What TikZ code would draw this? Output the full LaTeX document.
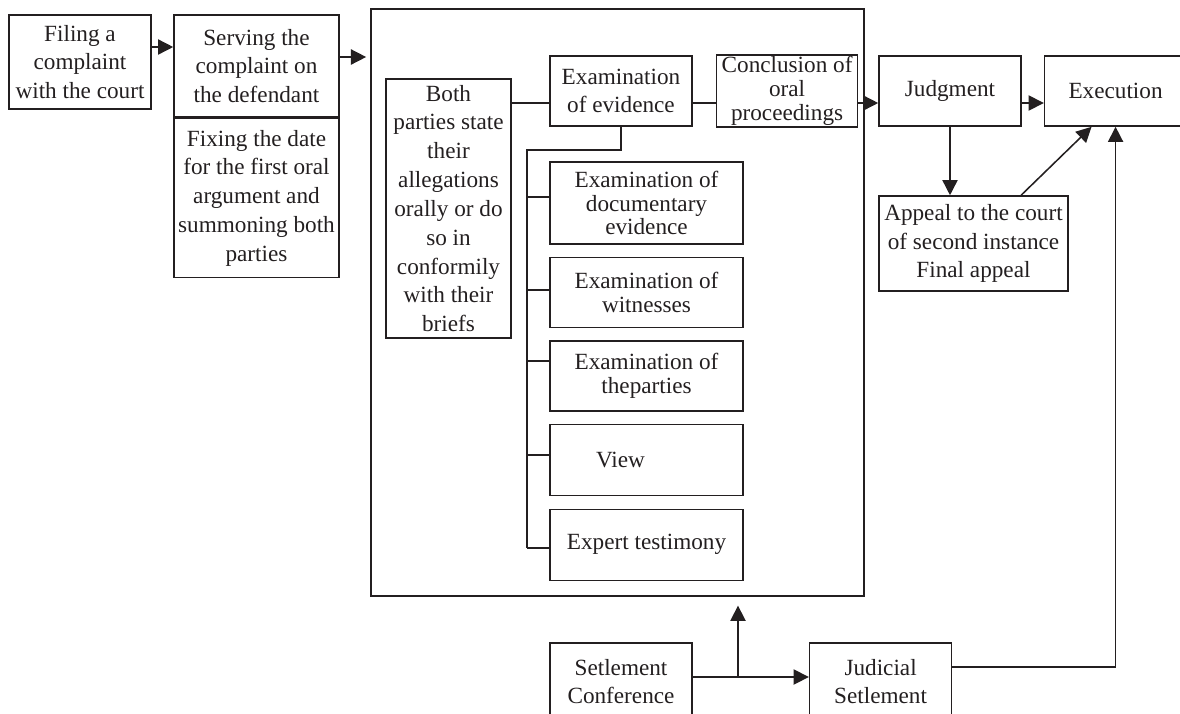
\documentclass[tikz,border=0pt]{standalone}
\usepackage{fontspec}
\setmainfont{Liberation Serif}
\usepackage{xcolor}
\usepackage{tikz}
\usetikzlibrary{arrows.meta}
\usetikzlibrary{positioning}
\definecolor{ink}{HTML}{231F20}

\begin{document}
\begin{tikzpicture}[x=0.025cm,y=-0.025cm,line width=1.1pt,color=ink,
    >={Triangle[length=0.38cm,width=0.38cm]},
    every node/.style={font=\fontsize{16.5}{20.5}\selectfont},
    blk/.style={draw,align=center,inner sep=1pt,minimum width=3.55cm,minimum height=1.75cm},
    tight/.style={font=\fontsize{16.5}{17}\selectfont}]
   \useasboundingbox (0,0) rectangle (1180,713);
   % filing and serving
   \node[blk,minimum height=2.35cm] (filing) at (80,62) {Filing a\\complaint\\with the court};
   \node[blk,minimum width=4.125cm,minimum height=2.55cm] (serve) at (256.5,66) {Serving the\\complaint on\\the defendant};
   \node[blk,minimum width=4.125cm,minimum height=3.975cm] (fixing) [below=0pt of serve] {Fixing the date\\for the first oral\\argument and\\summoning both\\parties};
   % oral argument
   \node[draw,minimum width=12.325cm,minimum height=14.675cm] (big) at (617.5,302.5) {};
   \node[blk,minimum width=3.125cm,minimum height=6.475cm] (both) at (448.5,208.5) {Both\\parties state\\their\\allegations\\orally or do\\so in\\conformily\\with their\\briefs};
   \node[blk] (exev) at (621,91) {Examination\\of evidence};
   \node[blk,tight,minimum width=3.525cm] (concl) [right=0.575cm of exev] {Conclusion of\\oral\\proceedings};
   \node[blk,tight,minimum width=4.825cm,minimum height=2.05cm] (docev) at (646.5,203) {Examination of\\documentary\\evidence};
   \node[blk,tight,minimum width=4.825cm] (witn) [below=0.3cm of docev] {Examination of\\witnesses};
   \node[blk,tight,minimum width=4.825cm] (parties) [below=0.3cm of witn] {Examination of\\theparties};
   \node[blk,minimum width=4.825cm,minimum height=1.775cm] (view) [below=0.3cm of parties] {View\hspace*{1.3cm}};
   \node[blk,minimum width=4.825cm,minimum height=1.775cm] (expert) [below=0.3cm of view] {Expert testimony};
   % judgment
   \node[blk] (judg) at (950,91) {Judgment};
   \node[blk] (exec) [right=0.55cm of judg] {Execution};
   \node[blk,minimum width=4.725cm,minimum height=2.375cm] (appeal) at (973.5,243.5) {Appeal to the court\\of second instance\\Final appeal};
   % settlement
   \node[blk,minimum height=1.925cm] (setconf) at (621,681.5) {Setlement\\Conference};
   \node[blk,minimum height=1.925cm] (judset) [right=2.9cm of setconf] {Judicial\\Setlement};

   \draw[->] (filing.east |- 0,47) -- (serve.west |- 0,47);
   \draw[->,shorten >=0.1cm] (serve.east |- 0,57) -- (big.west |- 0,57);
   \draw (both.east |- 0,103) -- (exev.west |- 0,103);
   \draw (exev.east |- 0,103) -- (concl.west |- 0,103);
   \draw[->] (concl.east |- 0,103) -- (judg.west |- 0,103);
   \draw[->] (judg.east |- 0,103) -- (exec.west |- 0,103);
   \draw[->] (judg.south) -- (judg.south |- appeal.north);
   \draw[->] ([xshift=1.19cm]appeal.north) -- ([xshift=-0.6cm]exec.south);
   \draw[->] (judset.east |- 0,667) -| (exec.south);
   \draw[->] (setconf.east |- 0,677) -- (judset.west |- 0,677);
   \coordinate (split) at (738,677);
   \draw[->,shorten >=0.22cm] (split) -- (split |- big.south);
   % evidence tree
   \coordinate (trunk) at (527,150);
   \draw (exev.south) |- (trunk) -- (trunk |- 0,548);
   \foreach \b/\y in {docev/197,witn/290,parties/361,view/455,expert/548}
     \draw (trunk |- 0,\y) -- (\b.west |- 0,\y);
\end{tikzpicture}
\end{document}
